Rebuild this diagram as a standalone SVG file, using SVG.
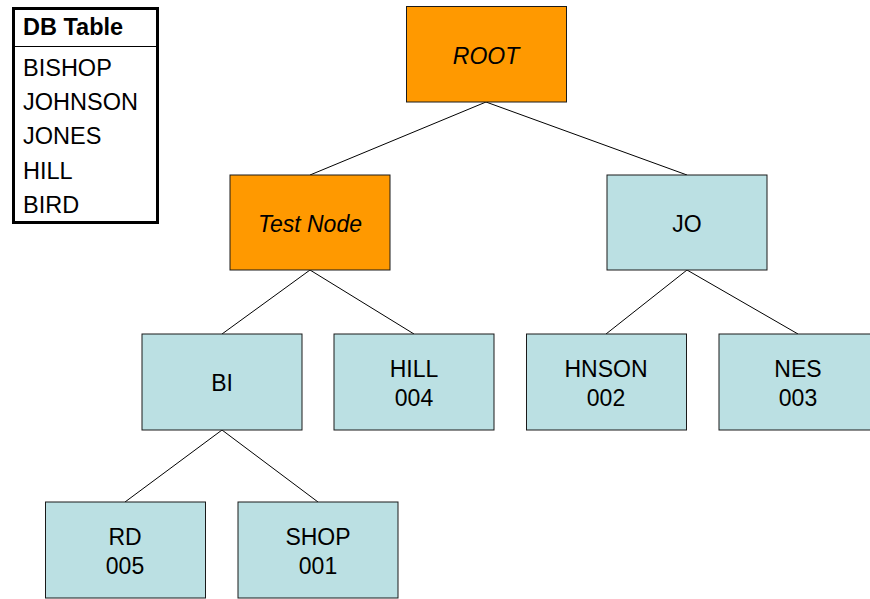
<svg xmlns="http://www.w3.org/2000/svg" width="870" height="599" viewBox="0 0 870 599">
  <style>
    .box { stroke: #1a1a1a; stroke-width: 1; }
    .leaf { fill: #bbe0e3; }
    .hot { fill: #ff9900; }
    .lbl { font-family: "Liberation Sans", Arial, sans-serif; font-size: 23px; fill: #000; text-anchor: middle; }
    .it { font-style: italic; }
    .link { stroke: #000; stroke-width: 1; fill: none; }
    .tbl { font-family: "Liberation Sans", Arial, sans-serif; font-size: 23.5px; fill: #000; }
  </style>
  <rect width="870" height="599" fill="#ffffff"/>

  <!-- source table -->
  <g id="db-table">
    <rect x="13.5" y="8.5" width="144" height="214" fill="#fff" stroke="#000" stroke-width="3"/>
    <line x1="13" y1="46.5" x2="158" y2="46.5" stroke="#000" stroke-width="1"/>
    <text class="tbl" x="23" y="35" font-weight="bold" font-size="23">DB Table</text>
    <text class="tbl" x="23" y="76">BISHOP</text>
    <text class="tbl" x="23" y="110">JOHNSON</text>
    <text class="tbl" x="23" y="144">JONES</text>
    <text class="tbl" x="23" y="179">HILL</text>
    <text class="tbl" x="23" y="213">BIRD</text>
  </g>

  <!-- tree edges -->
  <g id="connectors" class="link">
    <line x1="486" y1="102" x2="310" y2="175"/>
    <line x1="486" y1="102" x2="687" y2="175"/>
    <line x1="310" y1="270" x2="222" y2="334"/>
    <line x1="310" y1="270" x2="414" y2="334"/>
    <line x1="687" y1="270" x2="606" y2="334"/>
    <line x1="687" y1="270" x2="798" y2="334"/>
    <line x1="222" y1="430" x2="125" y2="502"/>
    <line x1="222" y1="430" x2="318" y2="502"/>
  </g>

  <g id="root">
    <rect class="box hot" x="406.5" y="6.5" width="160" height="95.5"/>
    <text class="lbl it" x="486" y="64">ROOT</text>
  </g>
  <g id="test-node">
    <rect class="box hot" x="230" y="175" width="160" height="95"/>
    <text class="lbl it" x="310" y="232">Test Node</text>
  </g>
  <g id="jo">
    <rect class="box leaf" x="607" y="175" width="160" height="95"/>
    <text class="lbl" x="687" y="232">JO</text>
  </g>
  <g id="bi">
    <rect class="box leaf" x="142" y="334" width="160" height="96"/>
    <text class="lbl" x="222" y="391">BI</text>
  </g>
  <g id="hill">
    <rect class="box leaf" x="334" y="334" width="160" height="96"/>
    <text class="lbl" x="414" y="377">HILL</text>
    <text class="lbl" x="414" y="406">004</text>
  </g>
  <g id="hnson">
    <rect class="box leaf" x="526.5" y="334" width="160" height="96"/>
    <text class="lbl" x="606" y="377">HNSON</text>
    <text class="lbl" x="606" y="406">002</text>
  </g>
  <g id="nes">
    <rect class="box leaf" x="719" y="334" width="160" height="96"/>
    <text class="lbl" x="798" y="377">NES</text>
    <text class="lbl" x="798" y="406">003</text>
  </g>
  <g id="rd">
    <rect class="box leaf" x="45.5" y="502" width="160" height="96"/>
    <text class="lbl" x="125" y="545">RD</text>
    <text class="lbl" x="125" y="574">005</text>
  </g>
  <g id="shop">
    <rect class="box leaf" x="238" y="502" width="160" height="96"/>
    <text class="lbl" x="318" y="545">SHOP</text>
    <text class="lbl" x="318" y="574">001</text>
  </g>
</svg>
